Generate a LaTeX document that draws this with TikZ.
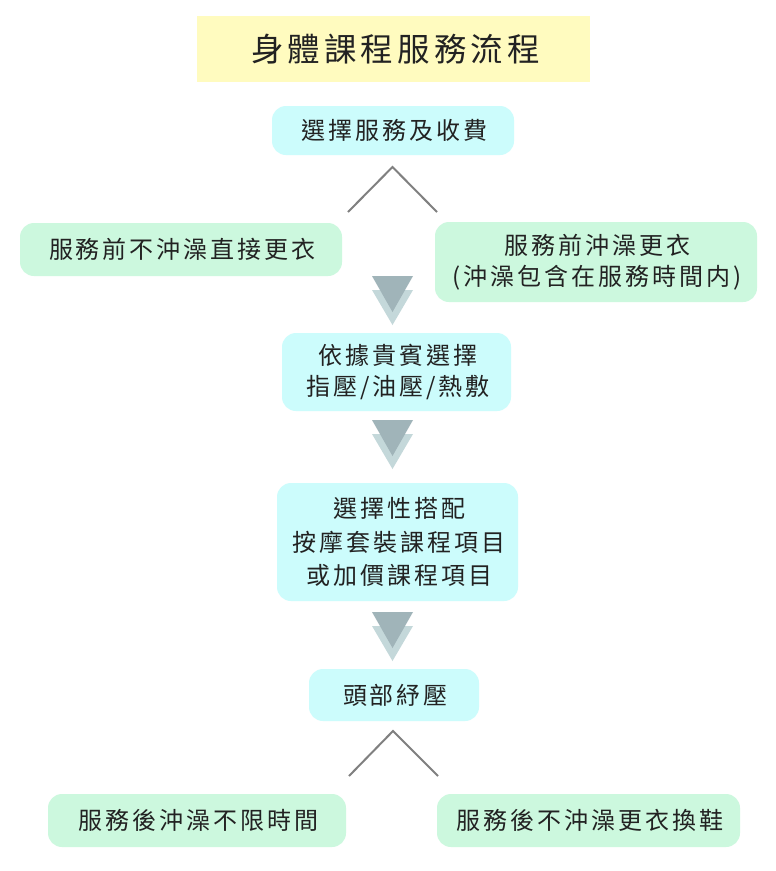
\documentclass[tikz,border=0pt]{standalone}
\usepackage{fontspec}
\setmainfont{Noto Sans CJK TC}[LetterSpace=12.5]
\definecolor{titlebg}{RGB}{255,251,191}
\definecolor{cyanbg}{RGB}{204,252,252}
\definecolor{greenbg}{RGB}{204,248,222}
\definecolor{txt}{RGB}{34,34,34}
\definecolor{tridark}{RGB}{160,180,185}
\definecolor{trilight}{RGB}{196,216,218}
\definecolor{vline}{RGB}{128,128,128}
\tikzset{
  titlebox/.style={fill=titlebg, draw=none, inner sep=0pt, text=txt,
    font=\fontsize{32.5}{36}\selectfont},
  cbox/.style={fill=cyanbg, draw=none, rounded corners=14pt, inner sep=0pt,
    align=center, text=txt, font=\fontsize{24}{31}\selectfont},
  gbox/.style={fill=greenbg, draw=none, rounded corners=14pt, inner sep=0pt,
    align=center, text=txt, font=\fontsize{24}{31}\selectfont},
  vstroke/.style={draw=vline, line width=2pt},
}
\newcommand{\triarrow}[2]{%
  \fill[trilight] (#1-20.5,#2+14) -- (#1+20.5,#2+14) -- (#1,#2+49) -- cycle;
  \fill[tridark] (#1-20.5,#2) -- (#1+20.5,#2) -- (#1,#2+36) -- cycle;
}
\begin{document}
\begin{tikzpicture}[x=1pt,y=-1pt]
\useasboundingbox (0,0) rectangle (776,871);
\fill[white] (0,0) rectangle (776,871);

\node[titlebox, minimum width=393pt, minimum height=66pt] (title) at (393.5,49) {\hspace{4pt}身體課程服務流程};

\node[cbox, minimum width=242pt, minimum height=49pt] (b1) at (393,130.5) {\hspace{3pt}選擇服務及收費};

\coordinate (v1top) at (392.5,167);
\coordinate (v1l) at (348,212);
\coordinate (v1r) at (437,212);
\draw[vstroke] (v1l) -- (v1top) -- (v1r);

\node[gbox, minimum width=322pt, minimum height=53pt] (bl) at (181,249.5) {\hspace{3pt}服務前不沖澡直接更衣};
\node[gbox, minimum width=322pt, minimum height=80pt] (br) at (596,262) {\hspace{3pt}服務前沖澡更衣\\\hspace{3pt}(沖澡包含在服務時間内)};

\triarrow{392.5}{276}

\node[cbox, minimum width=229pt, minimum height=78pt] (b2) at (396.5,372) {\hspace{3pt}依據貴賓選擇\\\hspace{3pt}指壓/油壓/熱敷};

\triarrow{392.5}{420}

\node[cbox, minimum width=241pt, minimum height=118pt, font=\fontsize{24}{33.5}\selectfont] (b3) at (397.5,542) {\hspace{3pt}選擇性搭配\\\hspace{3pt}按摩套裝課程項目\\\hspace{3pt}或加價課程項目};

\triarrow{392.5}{612}

\node[cbox, minimum width=170pt, minimum height=52pt] (b4) at (394,695) {\hspace{3pt}頭部紓壓};

\coordinate (v2top) at (393,731);
\coordinate (v2l) at (349,776);
\coordinate (v2r) at (438,776);
\draw[vstroke] (v2l) -- (v2top) -- (v2r);

\node[gbox, minimum width=298pt, minimum height=53pt] (dl) at (197,820.5) {\hspace{3pt}服務後沖澡不限時間};
\node[gbox, minimum width=303pt, minimum height=53pt] (dr) at (588.5,820.5) {\hspace{3pt}服務後不沖澡更衣換鞋};
\end{tikzpicture}
\end{document}
